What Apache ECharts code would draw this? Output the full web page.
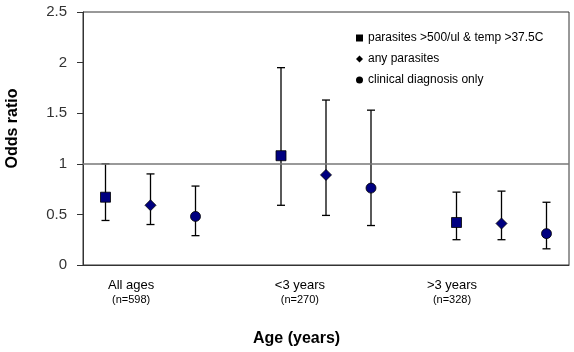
<!DOCTYPE html>
<html>
<head>
<meta charset="utf-8">
<script src="https://cdn.jsdelivr.net/npm/echarts@6/dist/echarts.min.js"></script>
<style>
  html, body { margin: 0; padding: 0; background: #fff; }
  #chart { width: 574px; height: 352px; }
</style>
</head>
<body>
<div id="chart"></div>
<script>
// groups and their labels
const groups = ["All ages", "<3 years", ">3 years"];
const groupN = ["(n=598)", "(n=270)", "(n=328)"];
const groupLabelX = [1.07, 4.82, 8.2];

// x position of each point (square, diamond, circle) per group
const xSquare = [0.5, 4.4, 8.3];
const xDiamond = [1.5, 5.4, 9.3];
const xCircle = [2.5, 6.4, 10.3];

// odds ratios and 95% CI
const orSquare = [0.67, 1.08, 0.42];
const loSquare = [0.44, 0.59, 0.25];
const hiSquare = [1.0, 1.95, 0.72];

const orDiamond = [0.59, 0.89, 0.41];
const loDiamond = [0.40, 0.49, 0.25];
const hiDiamond = [0.90, 1.63, 0.73];

const orCircle = [0.48, 0.76, 0.31];
const loCircle = [0.29, 0.39, 0.16];
const hiCircle = [0.78, 1.53, 0.62];

const yTicks = [0, 0.5, 1, 1.5, 2, 2.5];

const names = ["parasites >500/ul & temp >37.5C", "any parasites", "clinical diagnosis only"];
const FONT = "Liberation Sans, Arial, sans-serif";

const chart = echarts.init(document.getElementById("chart"));

function errBars(xs, lo, hi) {
  return xs.map((x, i) => [x, lo[i], hi[i]]);
}

const allErr = errBars(xSquare, loSquare, hiSquare)
  .concat(errBars(xDiamond, loDiamond, hiDiamond))
  .concat(errBars(xCircle, loCircle, hiCircle));

function pts(xs, ys) {
  return xs.map((x, i) => [x, ys[i]]);
}

const options = {
  animation: false,
  textStyle: { fontFamily: FONT },
  grid: {
    left: 83, right: 5, top: 12, bottom: 87,
    outerBoundsMode: "none",
    containLabel: false,
    show: true, borderColor: "#333", borderWidth: 1
  },
  title: {
    text: "Age (years)",
    left: 253, top: 331,
    padding: 0,
    textStyle: { fontFamily: FONT, fontSize: 16, fontWeight: "bold", color: "#000" }
  },
  legend: {
    orient: "vertical",
    left: 351, top: 27,
    itemWidth: 7, itemHeight: 7, itemGap: 9,
    textStyle: { fontFamily: FONT, fontSize: 12, color: "#000" },
    data: [
      { name: names[0], icon: "rect", itemStyle: { color: "#000", borderWidth: 0 } },
      { name: names[1], icon: "diamond", itemStyle: { color: "#000", borderWidth: 0 } },
      { name: names[2], icon: "circle", itemStyle: { color: "#000", borderWidth: 0 } }
    ]
  },
  xAxis: {
    type: "value",
    min: 0, max: 10.8,
    splitLine: { show: false },
    axisLine: { show: true, lineStyle: { color: "#333" } },
    axisTick: { show: false },
    axisLabel: {
      customValues: groupLabelX,
      margin: 12,
      formatter: function (v) {
        const i = groupLabelX.findIndex(g => Math.abs(g - v) < 0.01);
        return i < 0 ? "" : "{a|" + groups[i] + "}\n{b|" + groupN[i] + "}";
      },
      rich: {
        a: { fontFamily: FONT, fontSize: 13, color: "#000", lineHeight: 16 },
        b: { fontFamily: FONT, fontSize: 11, color: "#000", lineHeight: 14 }
      }
    }
  },
  yAxis: {
    type: "value",
    min: 0, max: 2.5, interval: 0.5,
    name: "Odds ratio",
    nameLocation: "middle",
    nameGap: 62,
    nameTextStyle: {
      fontFamily: FONT, fontSize: 16, fontWeight: "bold", color: "#000",
      padding: [0, 0, 0, 20]
    },
    splitLine: { show: false },
    axisLine: { show: true, lineStyle: { color: "#333" } },
    axisTick: { show: true, length: 6, lineStyle: { color: "#333" } },
    axisLabel: {
      margin: 16,
      fontSize: 15, color: "#333",
      formatter: v => (yTicks.includes(v) ? String(v) : "")
    }
  },
  series: [
    {
      type: "custom",
      name: "ci",
      silent: true,
      z: 2,
      data: allErr,
      renderItem: function (params, api) {
        const x = api.value(0);
        const lo = api.coord([x, api.value(1)]);
        const hi = api.coord([x, api.value(2)]);
        const cap = 4;
        const st = { stroke: "#000", lineWidth: 1.3 };
        return {
          type: "group",
          children: [
            { type: "line", shape: { x1: lo[0], y1: lo[1], x2: hi[0], y2: hi[1] }, style: st },
            { type: "line", shape: { x1: lo[0] - cap, y1: lo[1], x2: lo[0] + cap, y2: lo[1] }, style: st },
            { type: "line", shape: { x1: hi[0] - cap, y1: hi[1], x2: hi[0] + cap, y2: hi[1] }, style: st }
          ]
        };
      }
    },
    {
      type: "scatter",
      name: names[0],
      symbol: "rect",
      symbolSize: 10,
      z: 3,
      itemStyle: { color: "#000080", borderColor: "#000", borderWidth: 0.8, opacity: 1 },
      data: pts(xSquare, orSquare),
      markLine: {
        silent: true,
        symbol: "none",
        label: { show: false },
        lineStyle: { color: "#777", width: 1.5, type: "solid" },
        data: [{ yAxis: 1 }]
      }
    },
    {
      type: "scatter",
      name: names[1],
      symbol: "diamond",
      symbolSize: 11,
      z: 3,
      itemStyle: { color: "#000080", borderColor: "#000", borderWidth: 0.8, opacity: 1 },
      data: pts(xDiamond, orDiamond)
    },
    {
      type: "scatter",
      name: names[2],
      symbol: "circle",
      symbolSize: 10,
      z: 3,
      itemStyle: { color: "#000080", borderColor: "#000", borderWidth: 0.8, opacity: 1 },
      data: pts(xCircle, orCircle)
    }
  ]
};

chart.setOption(options);
</script>
</body>
</html>
